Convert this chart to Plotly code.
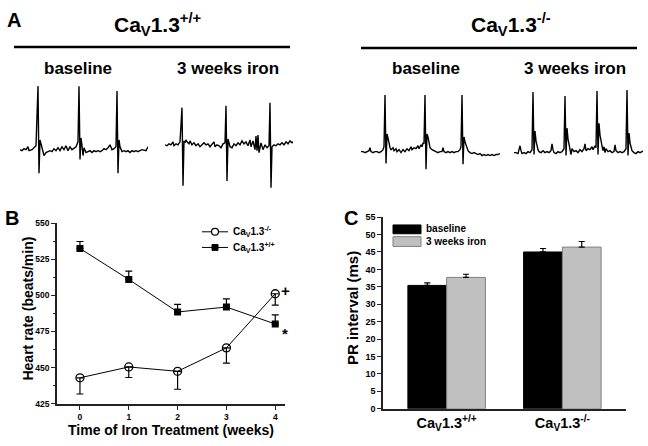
import plotly.graph_objects as go

W, H = 648, 446
FONT = "Liberation Sans, Arial, sans-serif"

# ---------------- Panel B data ----------------
weeks = [0, 1, 2, 3, 4]
hr_ko = [443.0, 450.5, 447.5, 463.7, 501.1]
hr_ko_err = [11.2, 7.3, 12.4, 10.5, 7.9]
hr_wt = [532.4, 511.0, 488.5, 491.9, 480.2]
hr_wt_err = [4.8, 5.7, 5.2, 5.6, 6.3]
hr_ticks = [425, 450, 475, 500, 525, 550]
hr_names = ["Ca<sub>V</sub>1.3<sup>-/-</sup>", "Ca<sub>V</sub>1.3<sup>+/+</sup>"]

# ---------------- Panel C data ----------------
pr_pos = [0, 1]
pr_labels = ["<b>Ca<sub>V</sub>1.3<sup>+/+</sup></b>", "<b>Ca<sub>V</sub>1.3<sup>-/-</sup></b>"]
pr_series = ["baseline", "3 weeks iron"]
pr_baseline = [35.4, 45.0]
pr_baseline_err = [0.7, 1.0]
pr_iron = [37.7, 46.4]
pr_iron_err = [0.9, 1.6]
pr_ticks = list(range(0, 60, 5))

# ---------------- Panel A ECG traces (time, amplitude) ----------------
ecg_wt_base_t = [0,2,4,6,8,9,12,14,16,18,19,20,21,22,24,26,28,30,32,34,36,38,40,42,44,46,48,50,52,54,56,58,59,60,61,62,63,64,66,68,70,72,74,76,78,80,82,84,86,88,90,92,94,96,97,98,99,100,102,104,106,108,110,112,114,116,118,120,122,126,128]
ecg_wt_base_v = [0,-1,1,0,3,-1,0,2,4,65,-24,10,6,-1,-6,-3,-2,-1,-2,1,-1,2,-1,3,0,4,-1,3,0,2,3,8,65,-10,12,4,-6,2,-3,-2,-1,-3,-1,-2,-1,-2,-1,1,0,2,5,0,1,3,60,-24,10,3,-2,-1,-2,-1,-3,-1,-2,-1,-2,-1,0,-1,3]

ecg_wt_iron_t = [0,2,4,6,8,9,11,13,15,17,18,19,20,21,22,24,25,27,29,31,33,35,37,39,41,43,45,47,49,50,52,54,56,58,60,61,62,63,64,65,67,69,71,73,75,77,79,81,83,85,86,88,90,91,92,93,94,96,98,100,102,104,105,106,107,109,111,113,115,117,119,121,123,125,127,128]
ecg_wt_iron_v = [0,-1,1,0,3,-1,1,0,3,38,-42,4,2,5,3,1,4,0,2,-1,1,-2,0,2,0,1,-2,1,3,-2,0,-1,-3,1,2,40,-37,6,3,-2,-3,1,-1,2,0,4,1,3,-1,5,-2,4,-5,9,-6,10,-8,2,-5,0,-3,-1,43,-44,-2,0,-1,1,0,2,0,3,1,4,2,3]

ecg_ko_base_t = [0,2,4,6,8,9,10,12,14,16,18,20,22,23,24,25,26,27,28,29,30,32,33,35,36,38,40,42,44,46,48,50,51,53,55,57,58,60,61,62,63,64,65,66,67,68,69,71,73,75,77,79,81,82,83,85,87,89,91,93,95,97,99,100,101,102,103,104,105,106,107,109,111,113,115,117,119,121,123,125,127,129,131,133,135,137,139]
ecg_ko_base_v = [0,0,-1,0,1,4,0,-1,0,0,-1,0,2,5,58,-12,18,14,8,4,2,4,1,3,0,2,-1,2,0,3,1,5,2,4,3,6,3,7,5,9,8,58,-18,18,15,8,4,2,1,0,-1,0,0,4,0,-1,0,-1,0,-1,0,0,2,5,58,-13,15,10,6,3,1,-1,-2,-1,-2,-3,-2,-4,-3,-4,-3,-4,-3,-4,-3,-3,-2]

ecg_ko_iron_t = [0,2,4,5,6,7,8,10,12,14,16,18,19,20,21,22,23,24,25,27,29,31,33,35,37,38,39,40,42,44,46,48,50,51,52,53,54,55,56,57,58,60,62,64,66,68,70,71,72,74,76,78,79,81,82,83,84,85,86,87,88,89,90,91,92,94,96,98,100,101,102,104,106,108,110,112,113,114,115,116,117,118,120,122,124,126,128,129]
ecg_ko_iron_v = [0,0,-1,2,7,2,-1,0,-1,1,0,3,62,-2,22,12,6,3,1,0,2,0,1,0,2,9,3,0,-1,1,0,1,4,58,-3,25,14,7,2,-2,4,1,2,0,3,1,4,9,2,4,3,6,3,7,5,63,-2,30,18,10,7,2,6,0,4,1,2,0,1,8,2,0,1,0,1,4,64,-3,20,10,5,2,0,-1,1,0,1,2]


def px(x):
    return x / W


def py(y):
    return 1 - y / H


fig = go.Figure()

# ---- Panel B ----
fig.add_trace(go.Scatter(
    x=weeks, y=hr_ko, mode="lines+markers", name=hr_names[0], showlegend=False,
    line=dict(color="black", width=1),
    marker=dict(symbol="circle-open", size=8, color="black", line=dict(width=1.3)),
    error_y=dict(type="data", symmetric=False, array=[0] * 5, arrayminus=hr_ko_err,
                 color="black", thickness=1.2, width=3.5),
    xaxis="x", yaxis="y"))
fig.add_trace(go.Scatter(
    x=weeks, y=hr_wt, mode="lines+markers", name=hr_names[1], showlegend=False,
    line=dict(color="black", width=1),
    marker=dict(symbol="square", size=7, color="black"),
    error_y=dict(type="data", symmetric=False, array=hr_wt_err, arrayminus=[0] * 5,
                 color="black", thickness=1.2, width=3.5),
    xaxis="x", yaxis="y"))

# ---- Panel C ----
fig.add_trace(go.Bar(
    x=pr_pos, y=pr_baseline, name=pr_series[0], showlegend=False,
    marker=dict(color="black", line=dict(color="black", width=1)),
    error_y=dict(type="data", symmetric=False, array=pr_baseline_err, arrayminus=[0, 0],
                 color="black", thickness=1.2, width=3),
    xaxis="x2", yaxis="y2"))
fig.add_trace(go.Bar(
    x=pr_pos, y=pr_iron, name=pr_series[1], showlegend=False,
    marker=dict(color="#c0c0c0", line=dict(color="#808080", width=1)),
    error_y=dict(type="data", symmetric=False, array=pr_iron_err, arrayminus=[0, 0],
                 color="black", thickness=1.2, width=3),
    xaxis="x2", yaxis="y2"))

# ---- Panel A ECG traces ----
ecgs = [
    (ecg_wt_base_t, ecg_wt_base_v, 20, 148),
    (ecg_wt_iron_t, ecg_wt_iron_v, 165, 143),
    (ecg_ko_base_t, ecg_ko_base_v, 361, 150),
    (ecg_ko_iron_t, ecg_ko_iron_v, 514, 151),
]
TOP, BOT = 75, 195
for i, (t, v, x0, base) in enumerate(ecgs):
    n = i + 3
    fig.add_trace(go.Scatter(x=t, y=v, mode="lines", showlegend=False,
                             line=dict(color="black", width=1.4),
                             xaxis=f"x{n}", yaxis=f"y{n}"))
    tmax = t[-1]
    fig.update_layout(**{
        f"xaxis{n}": dict(domain=[px(x0), px(x0 + tmax)], range=[0, tmax], visible=False,
                          anchor=f"y{n}"),
        f"yaxis{n}": dict(domain=[py(BOT), py(TOP)], range=[-(BOT - base), base - TOP],
                          visible=False, anchor=f"x{n}"),
    })

axis_common = dict(showline=True, linecolor="#222", linewidth=1.5, ticks="outside",
                   tickcolor="#222", tickwidth=1.3, ticklen=4, showgrid=False, zeroline=False)

fig.update_layout(
    width=W, height=H, margin=dict(l=0, r=0, t=0, b=0),
    paper_bgcolor="white", plot_bgcolor="white",
    font=dict(family=FONT, color="black"),
    showlegend=False,
    xaxis=dict(domain=[px(57), px(285)], range=[-0.47, 4.2], tickvals=weeks,
               anchor="y", tickfont=dict(family=FONT, size=8.5, color="black", weight="bold"),
               **axis_common),
    yaxis=dict(domain=[py(408), py(223)], range=[425, 550], tickvals=hr_ticks,
               anchor="x", tickfont=dict(family=FONT, size=8.5, color="black", weight="bold"),
               minor=dict(ticks="outside", ticklen=2, tickwidth=1, tickcolor="#222", dtick=12.5),
               **axis_common),
    xaxis2=dict(domain=[px(383), px(626)], range=[-0.55, 1.55], tickvals=pr_pos,
                ticktext=pr_labels, anchor="y2",
                tickfont=dict(family=FONT, size=14.5, color="black"),
                **{**axis_common, "ticks": ""}),
    yaxis2=dict(domain=[py(413), py(217)], range=[0, 55], tickvals=pr_ticks,
                anchor="x2", tickfont=dict(family=FONT, size=9, color="black", weight="bold"),
                **axis_common),
    barmode="group", bargap=0.33, bargroupgap=0,
)

ann = []


def add_text(text, x, y, size, angle=0, xanchor="center"):
    ann.append(dict(text=text, x=px(x), y=py(y), xref="paper", yref="paper",
                    showarrow=False, xanchor=xanchor, yanchor="middle", textangle=angle,
                    font=dict(family=FONT, size=size, color="black")))


# Panel A labels
add_text("<b>A</b>", 14, 15, 20)
add_text("<b>Ca<sub>V</sub>1.3<sup>+/+</sup></b>", 157, 20, 21)
add_text("<b>Ca<sub>V</sub>1.3<sup>-/-</sup></b>", 511, 20, 21)
add_text("<b>baseline</b>", 78, 65, 17)
add_text("<b>3 weeks iron</b>", 228, 65, 17)
add_text("<b>baseline</b>", 426, 65, 17)
add_text("<b>3 weeks iron</b>", 575, 65, 17)

# Panel B labels
add_text("<b>B</b>", 12, 218, 20)
add_text("<b>Heart rate (beats/min)</b>", 28.5, 311, 14, angle=-90)
add_text("<b>Time of Iron Treatment (weeks)</b>", 171, 435, 14)
add_text("<b>+</b>", 285, 292, 15)
add_text("<b>*</b>", 285, 336, 15)
add_text("<b>" + hr_names[0] + "</b>", 231, 232, 10, xanchor="left")
add_text("<b>" + hr_names[1] + "</b>", 231, 248, 10, xanchor="left")

# Panel C labels
add_text("<b>C</b>", 351, 218, 20)
add_text("<b>PR interval (ms)</b>", 352, 310, 15, angle=-90)
add_text("<b>" + pr_series[0] + "</b>", 424, 229, 10, xanchor="left")
add_text("<b>" + pr_series[1] + "</b>", 424, 242, 10, xanchor="left")

fig.update_layout(annotations=ann)

shapes = [
    # panel A group bars
    dict(type="line", xref="paper", yref="paper", x0=px(14), x1=px(290), y0=py(43), y1=py(43),
         line=dict(color="black", width=2.5)),
    dict(type="line", xref="paper", yref="paper", x0=px(361), x1=px(637), y0=py(44), y1=py(44),
         line=dict(color="black", width=2.5)),
    # panel B legend
    dict(type="line", xref="paper", yref="paper", x0=px(202), x1=px(228), y0=py(232), y1=py(232),
         line=dict(color="black", width=1)),
    dict(type="circle", xref="paper", yref="paper", x0=px(211.5), x1=px(218.5), y0=py(235.5), y1=py(228.5),
         fillcolor="white", line=dict(color="black", width=1.2)),
    dict(type="line", xref="paper", yref="paper", x0=px(202), x1=px(228), y0=py(248), y1=py(248),
         line=dict(color="black", width=1)),
    dict(type="rect", xref="paper", yref="paper", x0=px(212), x1=px(218), y0=py(251), y1=py(245),
         fillcolor="black", line=dict(color="black", width=1)),
    # panel C legend
    dict(type="rect", xref="paper", yref="paper", x0=px(393), x1=px(421), y0=py(234), y1=py(225),
         fillcolor="black", line=dict(color="black", width=1)),
    dict(type="rect", xref="paper", yref="paper", x0=px(393), x1=px(421), y0=py(247), y1=py(237),
         fillcolor="#c0c0c0", line=dict(color="#808080", width=1)),
]
fig.update_layout(shapes=shapes)

fig.write_html("out.html", config={"displayModeBar": False},
               post_script="document.body.style.margin='0';")
